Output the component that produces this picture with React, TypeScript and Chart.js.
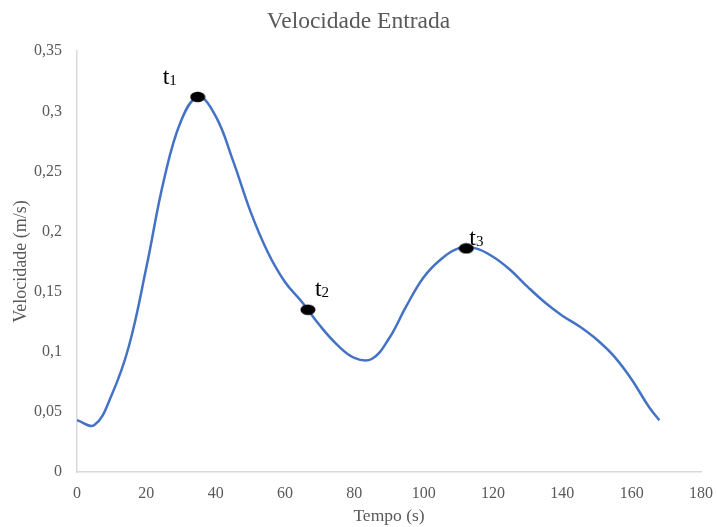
import React, { useEffect, useRef } from "react";
import { Chart, registerables } from "chart.js";

Chart.register(...registerables);

const tempo = [0, 5, 10, 15, 20, 25, 30, 35, 40, 45, 50, 55, 60, 65, 70, 75, 80, 85, 90, 95, 100, 105, 110, 115, 120, 125, 130, 135, 140, 145, 150, 155, 160, 165, 168];
const velocidade = [0.043, 0.039, 0.064, 0.105, 0.17, 0.242, 0.292, 0.312, 0.296, 0.259, 0.217, 0.183, 0.158, 0.141, 0.122, 0.106, 0.095, 0.094, 0.111, 0.138, 0.162, 0.177, 0.186, 0.186, 0.179, 0.168, 0.154, 0.141, 0.13, 0.121, 0.11, 0.096, 0.077, 0.054, 0.043];

const markerTempo = [34.8, 66.6, 112.3];
const markerVel = [0.312, 0.135, 0.186];
const markerNames = ["t", "t", "t"];
const markerSubs = ["1", "2", "3"];

const FONT = "'Liberation Serif', 'Times New Roman', serif";

function makeEllipse(): HTMLCanvasElement {
  const c = document.createElement("canvas");
  c.width = 16;
  c.height = 12;
  const ctx = c.getContext("2d")!;
  ctx.fillStyle = "#000";
  ctx.beginPath();
  ctx.ellipse(8, 6, 7.5, 5.2, 0, 0, Math.PI * 2);
  ctx.fill();
  return c;
}

const labelOffsets = [
  { dx: -35, dy: -13 },
  { dx: 7, dy: -14 },
  { dx: 3, dy: -3 },
];

const labelPlugin = {
  id: "markerLabels",
  afterDatasetsDraw(chart: any) {
    const meta = chart.getDatasetMeta(1);
    const ctx = chart.ctx;
    ctx.save();
    ctx.fillStyle = "#000";
    ctx.textBaseline = "alphabetic";
    ctx.textAlign = "left";
    meta.data.forEach((el: any, i: number) => {
      const o = labelOffsets[i];
      const x = el.x + o.dx;
      const y = el.y + o.dy;
      ctx.font = `24px ${FONT}`;
      ctx.fillText(markerNames[i], x, y);
      const w = ctx.measureText(markerNames[i]).width;
      ctx.font = `15px ${FONT}`;
      ctx.fillText(markerSubs[i], x + w, y + 1);
    });
    ctx.restore();
  },
};

export default function App() {
  const ref = useRef<HTMLCanvasElement>(null);
  useEffect(() => {
    if (!ref.current) return;
    const chart = new Chart(ref.current, {
      type: "scatter",
      data: {
        datasets: [
          {
            data: tempo.map((t, i) => ({ x: t, y: velocidade[i] })),
            showLine: true,
            borderColor: "#4472C4",
            borderWidth: 2.5,
            pointRadius: 0,
            tension: 0.4,
            order: 2,
          },
          {
            data: markerTempo.map((t, i) => ({ x: t, y: markerVel[i] })),
            showLine: false,
            pointStyle: makeEllipse(),
            pointRadius: 6,
            order: 1,
          },
        ],
      },
      options: {
        animation: false,
        responsive: false,
        layout: { padding: { left: 0, right: 0, top: 0, bottom: 0 } },
        plugins: {
          legend: { display: false },
          tooltip: { enabled: false },
          title: {
            display: true,
            text: "Velocidade Entrada",
            color: "#595959",
            font: { family: FONT, size: 23.5, weight: "normal" },
            padding: { top: 8, bottom: 15 },
          },
        },
        scales: {
          x: {
            type: "linear",
            min: 0,
            max: 180,
            ticks: { stepSize: 20, color: "#595959", font: { family: FONT, size: 16 }, padding: 4 },
            grid: { display: false },
            border: { display: true, color: "#d9d9d9", width: 1.5 },
            title: {
              display: true,
              text: "Tempo (s)",
              color: "#595959",
              font: { family: FONT, size: 17.5 },
              padding: { top: 0, bottom: 0 },
            },
            afterFit: (s: any) => {
              s.height = 55;
            },
          },
          y: {
            min: 0,
            max: 0.35,
            ticks: {
              stepSize: 0.05,
              color: "#595959",
              font: { family: FONT, size: 16 },
              padding: 7,
              callback: (v: any) => String(Math.round(Number(v) * 100) / 100).replace(".", ","),
            },
            grid: { display: false },
            border: { display: true, color: "#d9d9d9", width: 1.5 },
            title: {
              display: true,
              text: "Velocidade (m/s)",
              color: "#595959",
              font: { family: FONT, size: 18 },
              padding: { top: 10, bottom: 0 },
            },
            afterFit: (s: any) => {
              s.width = 77;
            },
          },
        },
      },
      plugins: [labelPlugin],
    } as any);
    return () => chart.destroy();
  }, []);
  return (
    <div style={{ position: "fixed", left: 0, top: 0, width: 717, height: 527, background: "#fff" }}>
      <canvas ref={ref} width={717} height={527} style={{ display: "block" }} />
    </div>
  );
}
